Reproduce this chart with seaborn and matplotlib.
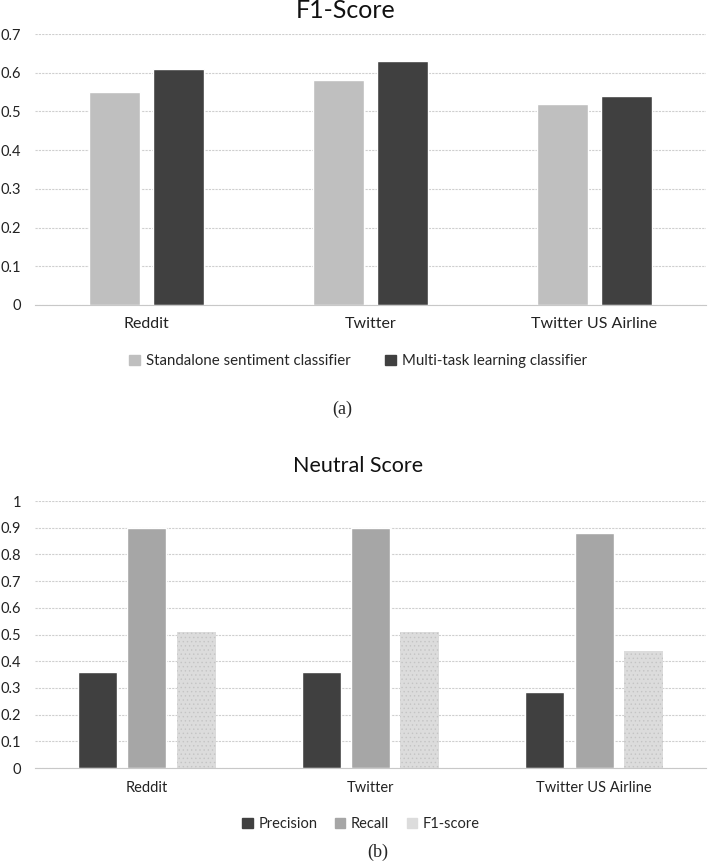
import pandas as pd
import matplotlib.pyplot as plt
import seaborn as sns

datasets = ["Reddit", "Twitter", "Twitter US Airline"]

# panel (a): F1-score per classifier
f1_standalone = [0.55, 0.58, 0.52]
f1_multitask = [0.61, 0.63, 0.54]
f1_models = ["Standalone sentiment classifier", "Multi-task learning classifier"]

# panel (b): neutral class scores
neutral_precision = [0.36, 0.36, 0.285]
neutral_recall = [0.90, 0.90, 0.88]
neutral_f1 = [0.51, 0.51, 0.44]
neutral_metrics = ["Precision", "Recall", "F1-score"]

sns.set_theme(style="white")
plt.rcParams["font.family"] = ["Lato", "DejaVu Sans"]
plt.rcParams["hatch.linewidth"] = 0.5

df_a = pd.DataFrame({
    "Dataset": datasets * 2,
    "Model": [f1_models[0]] * 3 + [f1_models[1]] * 3,
    "Score": f1_standalone + f1_multitask,
})
df_b = pd.DataFrame({
    "Dataset": datasets * 3,
    "Metric": [m for m in neutral_metrics for _ in datasets],
    "Score": neutral_precision + neutral_recall + neutral_f1,
})

fig = plt.figure(figsize=(7.08, 8.66), dpi=100)
ax_a = fig.add_axes([35 / 708, 1 - 305 / 866, 671 / 708, 271 / 866])
ax_b = fig.add_axes([35 / 708, 1 - 768 / 866, 671 / 708, 267 / 866])


def style_axis(ax, top, xsize):
    ax.set_ylim(0, top)
    ticks = [round(i * 0.1, 1) for i in range(int(round(top * 10)) + 1)]
    ax.set_yticks(ticks)
    ax.set_yticklabels(["%g" % t for t in ticks])
    ax.yaxis.grid(True, color="#cfcfcf", linestyle=(0, (2, 1)), linewidth=0.8)
    ax.set_axisbelow(True)
    for s in ["top", "right", "left"]:
        ax.spines[s].set_visible(False)
    ax.spines["bottom"].set_color("#c8c8c8")
    ax.spines["bottom"].set_linewidth(0.8)
    ax.tick_params(axis="both", length=0, colors="#222222")
    ax.tick_params(axis="y", pad=10, labelsize=10.5)
    ax.tick_params(axis="x", pad=9, labelsize=xsize)
    ax.set_xlabel("")
    ax.set_ylabel("")
    ax.set_xlim(-0.5, 2.5)


sns.barplot(data=df_a, x="Dataset", y="Score", hue="Model", ax=ax_a,
            palette=["#bfbfbf", "#404040"], width=0.571, gap=0.2,
            saturation=1, legend=False)
style_axis(ax_a, 0.7, 11.5)

sns.barplot(data=df_b, x="Dataset", y="Score", hue="Metric", ax=ax_b,
            palette=["#404040", "#a6a6a6", "#dcdcdc"], width=0.663, gap=0.21,
            saturation=1, legend=False)
style_axis(ax_b, 1.0, 10.5)

# dotted texture on the F1-score bars
for bar in ax_b.patches[6:9]:
    bar.set_hatch("....")
    bar.set_edgecolor("#c4c4c4")
    bar.set_linewidth(0)

fig.text(346 / 708, 1 - 10 / 866, "F1-Score", ha="center", va="center",
         fontsize=18, color="#111111")
fig.text(358 / 708, 1 - 466 / 866, "Neutral Score", ha="center", va="center",
         fontsize=15.5, color="#111111")

handles_a = [plt.Rectangle((0, 0), 1, 1, color=c) for c in ["#bfbfbf", "#404040"]]
fig.legend(handles_a, f1_models, loc="center", bbox_to_anchor=(358 / 708, 1 - 361 / 866),
           ncol=2, frameon=False, fontsize=10.8, handlelength=0.7, handleheight=0.7,
           handletextpad=0.4, columnspacing=2.3)

handles_b = [plt.Rectangle((0, 0), 1, 1, color=c) for c in ["#404040", "#a6a6a6", "#dcdcdc"]]
fig.legend(handles_b, neutral_metrics, loc="center", bbox_to_anchor=(361 / 708, 1 - 824 / 866),
           ncol=3, frameon=False, fontsize=10.5, handlelength=0.7, handleheight=0.7,
           handletextpad=0.4, columnspacing=1.2)

fig.text(342 / 708, 1 - 409 / 866, "(a)", ha="center", va="center",
         fontsize=13, family="Liberation Serif")
fig.text(378 / 708, 1 - 852 / 866, "(b)", ha="center", va="center",
         fontsize=13, family="Liberation Serif")

fig.savefig("out.png", dpi=100)
